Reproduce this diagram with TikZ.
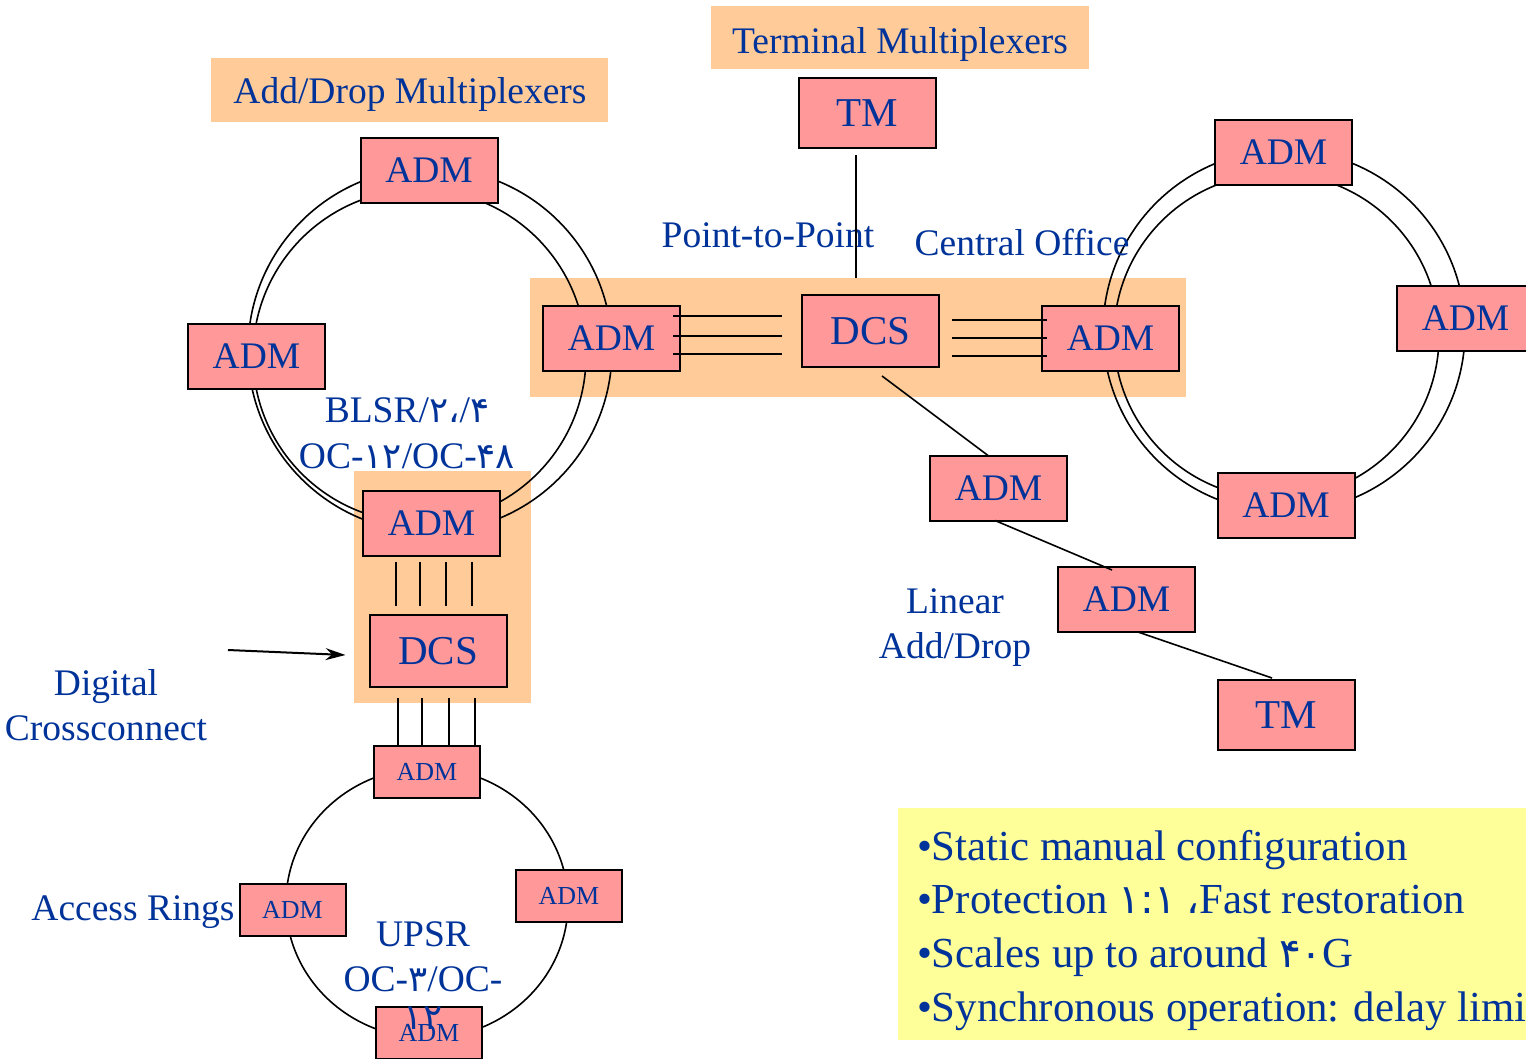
\documentclass[tikz,border=0pt]{standalone}
\usepackage{fontspec}
\setmainfont{Liberation Serif}
\newfontfamily\fa{DejaVu Sans}[Scale=0.95]
\usetikzlibrary{calc,arrows.meta}
\definecolor{txtblue}{RGB}{0,51,153}
\definecolor{boxpink}{RGB}{255,153,153}
\definecolor{hiorange}{RGB}{255,204,153}
\definecolor{noteyellow}{RGB}{255,255,153}
\begin{document}
\begin{tikzpicture}[x=1pt,y=-1pt,
  every node/.style={inner sep=0pt,outer sep=0pt},
  mux/.style={draw=black,line width=2pt,fill=boxpink,text=txtblue,
    minimum width=137pt,minimum height=65pt,font=\fontsize{37.5}{45}\selectfont},
  dcsbox/.style={mux,minimum height=72pt,font=\fontsize{41}{49}\selectfont},
  tmbox/.style={mux,minimum height=70pt,font=\fontsize{41}{49}\selectfont},
  smallmux/.style={mux,minimum width=106pt,minimum height=52pt,font=\fontsize{26}{31}\selectfont},
  lbl/.style={text=txtblue,font=\fontsize{37.5}{45}\selectfont,anchor=base},
  bullet/.style={text=txtblue,font=\fontsize{42.8}{51}\selectfont,anchor=base west},
  hilite/.style={fill=hiorange},
  ring/.style={draw=black,line width=1.6pt},
  wire/.style={draw=black,line width=1.6pt},
]
\path[use as bounding box] (0,0) rectangle (1526,1058);
\clip (0,0) rectangle (1526,1058);
\fill[white] (0,0) rectangle (1526,1058);

% highlighted regions
\fill[hilite] (211,58) rectangle (608,122);
\fill[hilite] (711,6) rectangle (1089,69);
\fill[hilite] (530,278) rectangle (1186,397);
\fill[hilite] (354,471) rectangle (531,703);
\fill[noteyellow] (898,808) rectangle (1540,1040);

% rings
\draw[ring] (430,350) circle[radius=182];
\draw[ring] (419.5,356) circle[radius=166.5];
\draw[ring] (1284,331) circle[radius=181];
\draw[ring] (1276.5,336) circle[radius=162.5];
\draw[ring] (427,903) circle[x radius=141,y radius=135];

% labels
\node[lbl] (tADM) at (410,103) {Add/Drop Multiplexers};
\node[lbl] (tTM) at (900,53) {Terminal Multiplexers};
\node[lbl] (tP2P) at (768,247) {Point-to-Point};
\node[lbl] (tCO) at (1022,255) {Central Office};
\node[lbl] (tBLSR) at (407,422) {BLSR/{\fa ۲،}/{\fa ۴}};
\node[lbl] (tOC1) at (407,468) {OC-{\fa ۱۲}/OC-{\fa ۴۸}};
\node[lbl] (tLin) at (955,613) {Linear};
\node[lbl] (tAD) at (955,658) {Add/Drop};
\node[lbl] (tDig) at (106,695) {Digital};
\node[lbl] (tCross) at (106,740) {Crossconnect};
\node[lbl] (tAcc) at (133,920) {Access Rings};
\node[lbl] (tUPSR) at (423,946) {UPSR};
\node[lbl] (tOC2) at (423,991) {OC-{\fa ۳}/OC-};

% equipment boxes
\node[mux] (admT1) at (429,170.5) {ADM};
\node[mux] (admL1) at (256.5,356.5) {ADM};
\node[mux] (admR1) at (611.5,338) {ADM};
\node[mux] (admB1) at (431.5,523.5) {ADM};
\node[tmbox] (tm1) at (867.5,113) {TM};
\node[dcsbox] (dcs1) at (870.5,331) {DCS};
\node[mux] (admL2) at (1110.5,338) {ADM};
\node[mux] (admT2) at (1283.5,152) {ADM};
\node[mux] (admR2) at (1465.5,318.5) {ADM};
\node[mux] (admB2) at (1286,505) {ADM};
\node[mux] (admM) at (998.5,488) {ADM};
\node[mux] (admN) at (1126.5,599.5) {ADM};
\node[tmbox] (tm2) at (1286.5,715) {TM};
\node[dcsbox] (dcs2) at (438,651) {DCS};
\node[smallmux] (admS1) at (427,772) {ADM};
\node[smallmux] (admS2) at (292.5,909.5) {ADM};
\node[smallmux] (admS3) at (569,895.5) {ADM};
\node[smallmux] (admS4) at (429,1033) {ADM};

% connectors
\coordinate (bandTop) at (856,278);
\draw[wire] ($(tm1.south)+(-11.5,7)$) -- (bandTop);
\foreach \a/\b in {-22/-15,-2/5,16/23}
  \draw[wire] ($(admR1.east)+(-7,\a)$) -- ($(dcs1.west)+(-20,\b)$);
\foreach \a/\b in {-11/-18,7/0,25/18}
  \draw[wire] ($(dcs1.east)+(13,\a)$) -- ($(admL2.west)+(5,\b)$);
\foreach \a/\b in {-35.5/-42,-11.5/-18,14.5/8,40.5/34}
  \draw[wire] ($(admB1.south)+(\a,6)$) -- ($(dcs2.north)+(\b,-9)$);
\foreach \a/\b in {-40/-29,-16/-5,11/22,37/48}
  \draw[wire] ($(dcs2.south)+(\a,11)$) -- ($(admS1.north)+(\b,0)$);
\draw[wire] ($(dcs1.south)+(11.5,9)$) -- ($(admM.north)+(-10.5,0)$);
\draw[wire] ($(admM.south)+(-3.5,0)$) -- ($(admN.north)+(-14.5,3)$);
\draw[wire] ($(admN.south)+(11.5,0)$) -- ($(tm2.north)+(-14.5,-2)$);
\coordinate (arrowTail) at (228,650);
\draw[wire,line width=2pt,-{Stealth[length=20pt,width=12pt]}] (arrowTail) -- ($(dcs2.west)+(-24,4)$);

% wrapped rate label over the lowest ring box
\node[lbl] (tOC2b) at (423,1029) {\fa ۱۲};

% notes
\node[bullet] (n1) at (917,860) {•Static manual configuration};
\node[bullet] (n2) at (917,913) {•Protection {\fa ۱:۱} {\fa ،}Fast restoration};
\node[bullet] (n3) at (917,967) {•Scales up to around {\fa ۴۰}G};
\node[bullet] (n4) at (917,1021) {•Synchronous operation: delay limit};
\end{tikzpicture}
\end{document}
